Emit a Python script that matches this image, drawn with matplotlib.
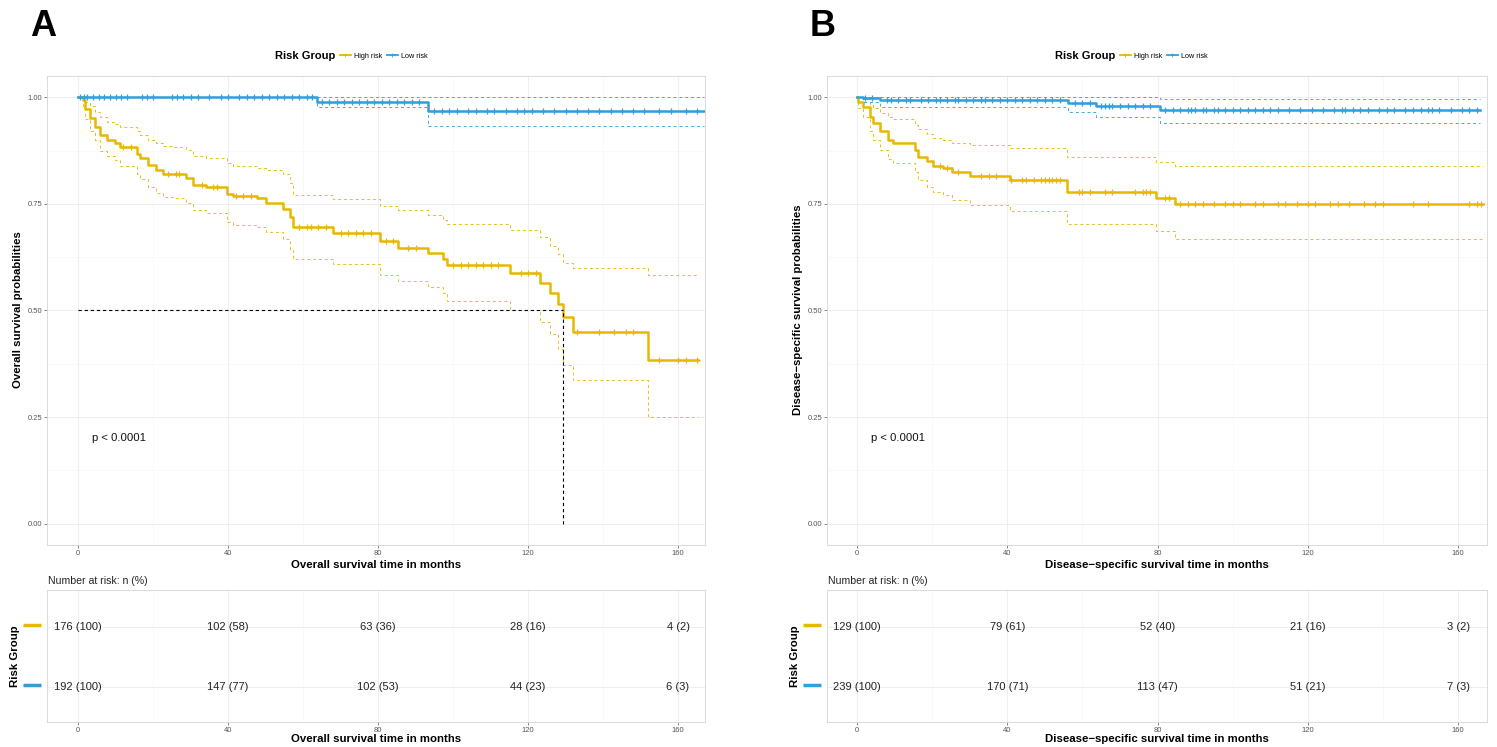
import matplotlib
matplotlib.use("Agg")
import matplotlib.pyplot as plt
from matplotlib.lines import Line2D
from matplotlib.ticker import FixedLocator
import numpy as np

plt.rcParams["font.family"] = ["Liberation Sans", "DejaVu Sans"]

HIGH = "#E7B800"
LOW = "#2E9FDF"

# ---- overall survival: high risk ----
os_high_t = [0, 1.3, 1.8, 3.1, 4.4, 5.8, 7.6, 9.8, 11.1, 15.6, 16.4, 18.7, 20.9, 22.7, 25.3,
             28.9, 30.7, 34.2, 39.6, 41.3, 47.6, 50.2, 54.7, 56.4, 57.3, 68.0, 80.5, 85.4,
             93.2, 97.4, 98.3, 115.2, 123.2, 125.9, 128.1, 129.2, 132.1, 152.1]
os_high_s = [1.0, 0.994, 0.972, 0.951, 0.931, 0.911, 0.9, 0.892, 0.884, 0.868, 0.857, 0.841,
             0.829, 0.821, 0.819, 0.81, 0.794, 0.79, 0.774, 0.768, 0.763, 0.752, 0.739, 0.719,
             0.696, 0.682, 0.662, 0.647, 0.635, 0.621, 0.606, 0.588, 0.564, 0.541, 0.516,
             0.484, 0.449, 0.383]
os_high_hi = [1.0, 1.0, 0.99, 0.98, 0.966, 0.955, 0.943, 0.937, 0.93, 0.92, 0.912, 0.9, 0.893,
              0.886, 0.884, 0.877, 0.863, 0.857, 0.845, 0.838, 0.834, 0.829, 0.82, 0.8, 0.772,
              0.762, 0.746, 0.735, 0.723, 0.713, 0.703, 0.688, 0.672, 0.652, 0.632, 0.612,
              0.6, 0.584]
os_high_lo = [1.0, 0.98, 0.95, 0.922, 0.9, 0.875, 0.862, 0.852, 0.84, 0.82, 0.808, 0.79, 0.775,
              0.766, 0.763, 0.752, 0.735, 0.728, 0.708, 0.7, 0.695, 0.684, 0.668, 0.645, 0.62,
              0.608, 0.584, 0.57, 0.555, 0.54, 0.523, 0.5, 0.472, 0.446, 0.41, 0.372, 0.336,
              0.251]
os_high_cens = [12, 14, 24, 26, 27, 33, 36, 37, 42, 44, 46, 59, 61, 62, 64, 66, 70, 72, 74, 76,
                78, 82, 84, 88, 90, 100, 102, 104, 106, 108, 110, 112, 118, 120, 122, 133, 139,
                143, 146, 148, 155, 160, 162, 165]
os_high_end = 165.4

# ---- overall survival: low risk ----
os_low_t = [0, 63.6, 93.4]
os_low_s = [1.0, 0.99, 0.968]
os_low_hi = [1.0, 1.0, 1.0]
os_low_lo = [1.0, 0.977, 0.932]
os_low_cens = [0.5, 1.5, 2.5, 4, 5.5, 7, 8.5, 10, 11.5, 13, 17, 18.5, 20, 25, 26.5, 28, 30, 32,
               35, 38, 40, 43, 45, 47, 49, 51, 53, 55, 57, 59, 61, 62.5, 65, 67, 69, 71, 73, 75,
               77, 79, 81, 83, 85, 87, 89, 91, 95, 97, 99, 101, 104, 106, 109, 111, 114, 117,
               119, 121, 124, 127, 130, 133, 136, 139, 142, 145, 148, 151, 155, 158, 162, 165]
os_low_end = 166.8

# ---- disease-specific survival: high risk ----
dss_high_t = [0, 0.35, 1.7, 3.5, 4.3, 6.1, 8.3, 9.7, 15.4, 16.3, 18.5, 20.3, 23.0, 25.2, 30.0,
              40.7, 55.9, 79.7, 84.6]
dss_high_s = [1.0, 0.99, 0.978, 0.955, 0.94, 0.92, 0.9, 0.894, 0.877, 0.861, 0.851, 0.84, 0.834,
              0.825, 0.815, 0.805, 0.779, 0.763, 0.749]
dss_high_hi = [1.0, 1.0, 0.995, 0.985, 0.975, 0.963, 0.953, 0.948, 0.935, 0.925, 0.915, 0.905,
               0.9, 0.893, 0.887, 0.88, 0.861, 0.849, 0.838]
dss_high_lo = [1.0, 0.975, 0.955, 0.922, 0.9, 0.877, 0.855, 0.845, 0.825, 0.805, 0.79, 0.778,
               0.77, 0.76, 0.747, 0.734, 0.704, 0.687, 0.667]
dss_high_cens = [22, 24, 27, 33, 35, 37, 41, 44, 45, 47, 49, 50, 51, 52, 53, 54, 59, 60, 62, 66,
                 68, 74, 76, 77, 78, 82, 83, 86, 88, 90, 92, 95, 98, 100, 102, 106, 108, 112,
                 114, 117, 120, 122, 126, 128, 131, 135, 138, 140, 148, 152, 163, 165, 166]
dss_high_end = 166.6

# ---- disease-specific survival: low risk ----
dss_low_t = [0, 1.5, 6.0, 56.2, 63.7, 80.6]
dss_low_s = [1.0, 0.998, 0.993, 0.986, 0.98, 0.97]
dss_low_hi = [1.0, 1.0, 1.0, 1.0, 1.0, 0.997]
dss_low_lo = [1.0, 0.99, 0.978, 0.966, 0.955, 0.94]
dss_low_cens = [2, 4, 8, 9, 11, 13, 14, 17, 19, 21, 22, 24, 26, 27, 29, 31, 33, 34, 36, 38, 40,
                42, 44, 46, 48, 50, 52, 54, 58, 60, 62, 65, 66, 67, 68, 70, 72, 74, 76, 78, 82,
                84, 86, 88, 89, 90, 92, 93, 95, 96, 98, 100, 102, 104, 106, 108, 110, 112, 115,
                118, 121, 124, 127, 129, 130, 132, 134, 136, 139, 141, 143, 146, 148, 150, 152,
                153, 155, 158, 161, 163, 165]
dss_low_end = 165.8

# ---- numbers at risk ----
risk_times = [0, 40, 80, 120, 160]
os_high_n = [176, 102, 63, 28, 4]
os_high_pct = [100, 58, 36, 16, 2]
os_low_n = [192, 147, 102, 44, 6]
os_low_pct = [100, 77, 53, 23, 3]
dss_high_n = [129, 79, 52, 21, 3]
dss_high_pct = [100, 61, 40, 16, 2]
dss_low_n = [239, 170, 113, 51, 7]
dss_low_pct = [100, 71, 47, 21, 3]

W, H = 1497, 747
fig = plt.figure(figsize=(W / 100, H / 100), dpi=100)


def fx(px):
    return px / W


def fy(py):
    return 1 - py / H


def step_at(t, s, x):
    idx = np.searchsorted(t, x, side="right") - 1
    return np.asarray(s)[idx]


def draw_curve(ax, t, s, lo, hi, cens, end, color):
    tt = np.append(t, end)
    for band in (lo, hi):
        ax.step(tt, np.append(band, band[-1]), where="post", color=color, lw=0.7,
                ls=(0, (3, 3)), alpha=0.9)
    ax.step(tt, np.append(s, s[-1]), where="post", color=color, lw=1.8)
    ax.plot(cens, step_at(t, s, cens), ls="none", marker="+", ms=4, mew=0.9, color=color)


def style_grid(ax):
    ax.xaxis.set_major_locator(FixedLocator(risk_times))
    ax.xaxis.set_minor_locator(FixedLocator([20, 60, 100, 140]))
    ax.grid(which="major", color="#EBEBEB", lw=0.6)
    ax.grid(which="minor", color="#F5F5F5", lw=0.4)
    ax.set_axisbelow(True)
    ax.tick_params(which="minor", length=0)
    ax.tick_params(which="major", length=2, width=0.5, color="#555555", labelsize=5.5,
                   labelcolor="#555555", pad=1.5)
    for sp in ax.spines.values():
        sp.set_color("#D5D5D5")
        sp.set_linewidth(0.6)


def draw_panel(left, right, letter, xlim, curves, rows, ylabel, xlabel, median=None):
    width = fx(right - left)
    ax = fig.add_axes([fx(left), fy(545), width, fy(76) - fy(545)])
    for c in curves:
        draw_curve(ax, *c)
    ax.set_xlim(*xlim)
    ax.set_ylim(-0.05, 1.05)
    style_grid(ax)
    ax.yaxis.set_major_locator(FixedLocator([0, 0.25, 0.5, 0.75, 1.0]))
    ax.yaxis.set_minor_locator(FixedLocator([0.125, 0.375, 0.625, 0.875]))
    ax.set_yticklabels(["0.00", "0.25", "0.50", "0.75", "1.00"])

    # median survival guide lines
    if median is not None:
        t, s = median
        med = t[int(np.argmax(np.asarray(s) <= 0.5))]
        ax.plot([0, med], [0.5, 0.5], color="black", lw=0.8, ls=(0, (3, 2.5)))
        ax.plot([med, med], [0, 0.5], color="black", lw=0.8, ls=(0, (3, 2.5)))

    ax.text(3.6, 0.2, "p < 0.0001", fontsize=8.2, ha="left", va="center", color="#111111")

    cx = left + (right - left) / 2
    fig.text(fx(cx), fy(565), xlabel, fontsize=8.2, fontweight="bold", ha="center", va="center")
    fig.text(fx(left - 29), fy(310), ylabel, fontsize=8.2, fontweight="bold", rotation=90,
             ha="center", va="center")
    fig.text(fx(left - 17), fy(27), letter, fontsize=26, fontweight="bold", ha="left",
             va="center")

    # legend on top
    fig.text(fx(left + 228), fy(56), "Risk Group", fontsize=8, fontweight="bold",
             ha="left", va="center")
    handles = [Line2D([], [], color=HIGH, lw=1.3, marker="+", ms=3, mew=0.6),
               Line2D([], [], color=LOW, lw=1.3, marker="+", ms=3, mew=0.6)]
    fig.legend(handles, ["High risk", "Low risk"], ncol=2, loc="center left",
               bbox_to_anchor=(fx(left + 293), fy(56)), frameon=False, fontsize=5.2,
               handlelength=1.5, handletextpad=0.4, columnspacing=0.7, borderpad=0,
               borderaxespad=0)

    # risk table
    tab = fig.add_axes([fx(left), fy(722), width, fy(590) - fy(722)])
    tab.set_xlim(*xlim)
    tab.set_ylim(0.41, 2.61)
    style_grid(tab)
    tab.yaxis.set_major_locator(FixedLocator([1, 2]))
    tab.tick_params(axis="y", length=0, labelleft=False)
    for (n, pct), yrow in zip(rows, (2, 1)):
        for t, k, p in zip(risk_times, n, pct):
            tab.text(t, yrow, f"{k} ({p})", fontsize=8, ha="center", va="center",
                     color="#222222")
    for yrow, col in ((2, HIGH), (1, LOW)):
        tab.plot([-24 / (right - left), -6 / (right - left)], [yrow + 0.02] * 2,
                 color=col, lw=2.5, transform=tab.get_yaxis_transform(), clip_on=False,
                 solid_capstyle="butt")
    fig.text(fx(left - 32), fy(656), "Risk Group", fontsize=8.2, fontweight="bold",
             rotation=90, ha="center", va="center")
    fig.text(fx(left + 1), fy(581), "Number at risk: n (%)", fontsize=7.6, ha="left",
             va="center", color="#222222")
    fig.text(fx(cx), fy(739), xlabel, fontsize=8.2, fontweight="bold", ha="center",
             va="center")


draw_panel(47, 705, "A", (-8.3, 167.2),
           [(os_high_t, os_high_s, os_high_lo, os_high_hi, os_high_cens, os_high_end, HIGH),
            (os_low_t, os_low_s, os_low_lo, os_low_hi, os_low_cens, os_low_end, LOW)],
           [(os_high_n, os_high_pct), (os_low_n, os_low_pct)],
           "Overall survival probabilities", "Overall survival time in months",
           median=(os_high_t, os_high_s))

draw_panel(827, 1487, "B", (-8.0, 167.7),
           [(dss_high_t, dss_high_s, dss_high_lo, dss_high_hi, dss_high_cens, dss_high_end, HIGH),
            (dss_low_t, dss_low_s, dss_low_lo, dss_low_hi, dss_low_cens, dss_low_end, LOW)],
           [(dss_high_n, dss_high_pct), (dss_low_n, dss_low_pct)],
           "Disease\u2212specific survival probabilities",
           "Disease\u2212specific survival time in months")

fig.savefig("out.png", dpi=100)
